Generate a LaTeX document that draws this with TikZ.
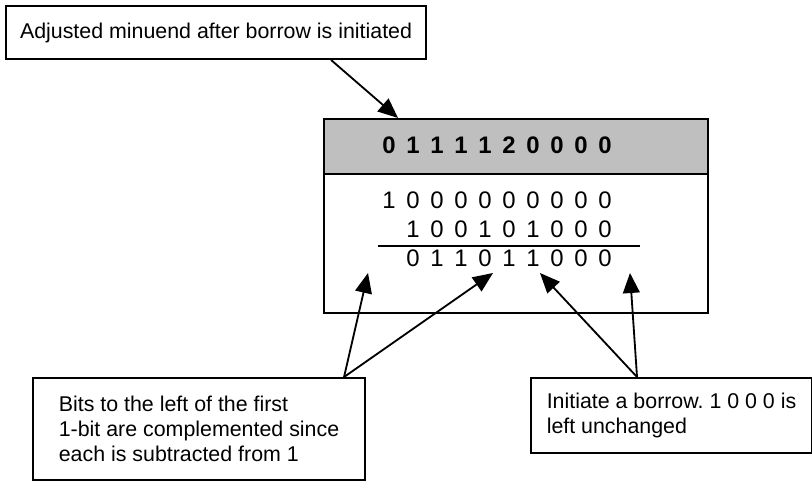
\documentclass[tikz,border=0pt]{standalone}
\usepackage{fontspec}
\setmainfont{Liberation Sans}
\usetikzlibrary{arrows.meta,positioning}
\tikzset{
  note/.style={draw, line width=1.4pt, rectangle, align=left, anchor=north west, inner sep=0pt,
               font=\fontsize{15.2}{17.8}\selectfont\frenchspacing},
  frame/.style={draw, line width=1.4pt, anchor=north west, minimum width=9.6cm, inner sep=0pt},
  digit/.style={inner sep=0pt, font=\fontsize{17}{17.8}\selectfont},
  hdigit/.style={digit, font=\fontsize{17}{17.8}\selectfont\bfseries},
  pointer/.style={-{Triangle[length=0.5cm,width=0.42cm]}, line width=1.3pt}
}

\begin{document}
\begin{tikzpicture}[x=0.025cm, y=-0.025cm]
\useasboundingbox (0,0) rectangle (812,481);
\node[note, minimum width=10.5cm, minimum height=1.325cm] (adjusted) at (5,5) {Adjusted minuend after borrow is initiated};
% the worked subtraction
\node[frame, minimum height=4.85cm] (work) at (323,118) {};
\node[frame, minimum height=1.375cm, fill=black!25] (header) at (323,118) {};
\foreach \d [count=\k] in {0,1,1,1,1,2,0,0,0,0} \node[hdigit] (h\k) at ({365+24*\k},145) {\d};
\foreach \d [count=\k] in {1,0,0,0,0,0,0,0,0,0} \node[digit] (m\k) at ({365+24*\k},200) {\d};
\foreach \d [count=\k from 2] in {1,0,0,1,0,1,0,0,0} \node[digit] (s\k) at ({365+24*\k},229) {\d};
\foreach \d [count=\k from 2] in {0,1,1,0,1,1,0,0,0} \node[digit] (r\k) at ({365+24*\k},258) {\d};
\draw[line width=1.2pt] (378,246) -- (640,246);
\coordinate (lt1) at (368,273); \coordinate (lt2) at (493,273);
\coordinate (rt1) at (540,273); \coordinate (rt2) at (630,273);
% notes below
\node[note, minimum width=8.3cm, minimum height=2.55cm] (leftnote) at (32,377) {Bits to the left of the first\\1-bit are complemented since\\each is subtracted from 1};
\node[note, minimum width=7.025cm, minimum height=1.875cm] (rightnote) at (530,377) {Initiate a borrow. 1 0 0 0 is\\left unchanged};
\draw[pointer] ([xshift=2.875cm]adjusted.south) -- ([xshift=1.875cm]header.north west);
\draw[pointer] ([xshift=-0.55cm]leftnote.north east) -- (lt1);
\draw[pointer] ([xshift=-0.55cm]leftnote.north east) -- (lt2);
\draw[pointer] ([xshift=2.675cm]rightnote.north west) -- (rt1);
\draw[pointer] ([xshift=2.675cm]rightnote.north west) -- (rt2);
\end{tikzpicture}
\end{document}
